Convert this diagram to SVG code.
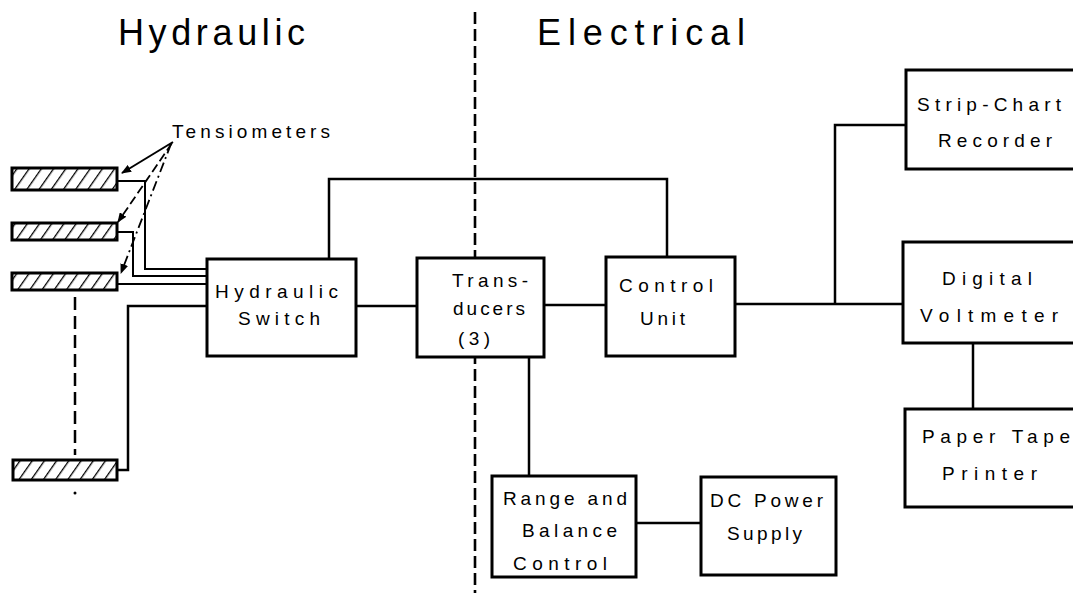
<svg xmlns="http://www.w3.org/2000/svg" width="1073" height="593" viewBox="0 0 1073 593">
<style>
.box{fill:#fff;stroke:#000;stroke-width:3}
.ln{fill:none;stroke:#000;stroke-width:2.5}
.tube{fill:none;stroke:#000;stroke-width:2}
.t{font-family:"Liberation Sans",Arial,sans-serif;font-size:19px;fill:#000}
.h{font-family:"Liberation Sans",Arial,sans-serif;font-size:36px;fill:#000}
.tens{fill:url(#hatch);stroke:#000;stroke-width:3}
</style>
<defs>
<pattern id="hatch" patternUnits="userSpaceOnUse" width="10" height="10" patternTransform="rotate(35)">
<rect width="10" height="10" fill="#fff"/>
<line x1="0" y1="0" x2="0" y2="10" stroke="#000" stroke-width="2.6"/>
</pattern>
<marker id="arr" markerWidth="10" markerHeight="8" refX="9" refY="4" orient="auto" markerUnits="userSpaceOnUse">
<path d="M0,0 L10,4 L0,8 Z" fill="#000"/>
</marker>
</defs>
<rect width="1073" height="593" fill="#fff"/>

<g id="headers">
<text class="h" x="118" y="45" textLength="187" lengthAdjust="spacing">Hydraulic</text>
<text class="h" x="537" y="45" textLength="208" lengthAdjust="spacing">Electrical</text>
</g>

<g id="divider">
<path d="M475,12 V593" fill="none" stroke="#000" stroke-width="2.6" stroke-dasharray="12 5"/>
</g>

<g id="tensiometers">
<rect class="tens" x="12" y="168" width="105" height="22"/>
<rect class="tens" x="12" y="223" width="105" height="17"/>
<rect class="tens" x="12" y="273" width="105" height="17"/>
<rect class="tens" x="13" y="460" width="104" height="20"/>
<path d="M75,297 V455" fill="none" stroke="#000" stroke-width="2.5" stroke-dasharray="13 6"/>
<circle cx="75" cy="493" r="1.5" fill="#000"/>
<text class="t" x="172" y="138" textLength="158" lengthAdjust="spacing">Tensiometers</text>
<path d="M173,142 L122,173" fill="none" stroke="#000" stroke-width="2" marker-end="url(#arr)"/>
<path d="M172,143 L118,222" fill="none" stroke="#000" stroke-width="1.8" stroke-dasharray="9 4" marker-end="url(#arr)"/>
<path d="M171,144 L121,273" fill="none" stroke="#000" stroke-width="1.8" stroke-dasharray="10 4 2 4" marker-end="url(#arr)"/>
</g>

<g id="connectors">
<path class="tube" d="M117,181 H145 V269 H207"/>
<path class="tube" d="M117,232 H133 V276 H207"/>
<path class="tube" d="M117,284 H207"/>
<path class="ln" d="M117,470 H128 V306 H207"/>
<path class="ln" d="M329,259 V179 H667 V257"/>
<path class="ln" d="M356,306 H417"/>
<path class="ln" d="M544,305 H606"/>
<path class="ln" d="M735,304 H903"/>
<path class="ln" d="M835,304 V125 H906"/>
<path class="ln" d="M973,343 V409"/>
<path class="ln" d="M529,357 V476"/>
<path class="ln" d="M636,523 H701"/>
</g>

<g id="hydraulic-switch">
<rect class="box" x="207" y="259" width="149" height="97"/>
<text class="t" x="215" y="298" textLength="123" lengthAdjust="spacing">Hydraulic</text>
<text class="t" x="238" y="325" textLength="82" lengthAdjust="spacing">Switch</text>
</g>

<g id="transducers">
<rect class="box" x="417" y="258" width="127" height="99"/>
<text class="t" x="452" y="287" textLength="76" lengthAdjust="spacing">Trans-</text>
<text class="t" x="453" y="315" textLength="72" lengthAdjust="spacing">ducers</text>
<text class="t" x="458" y="345" textLength="32" lengthAdjust="spacing">(3)</text>
</g>

<g id="control-unit">
<rect class="box" x="606" y="257" width="129" height="99"/>
<text class="t" x="619" y="292" textLength="94" lengthAdjust="spacing">Control</text>
<text class="t" x="640" y="325" textLength="45" lengthAdjust="spacing">Unit</text>
</g>

<g id="strip-chart">
<rect class="box" x="906" y="70" width="180" height="99"/>
<text class="t" x="917" y="111" textLength="144" lengthAdjust="spacing">Strip-Chart</text>
<text class="t" x="938" y="147" textLength="114" lengthAdjust="spacing">Recorder</text>
</g>

<g id="digital-voltmeter">
<rect class="box" x="903" y="242" width="183" height="101"/>
<text class="t" x="942" y="285" textLength="90" lengthAdjust="spacing">Digital</text>
<text class="t" x="920" y="322" textLength="138" lengthAdjust="spacing">Voltmeter</text>
</g>

<g id="paper-tape">
<rect class="box" x="905" y="409" width="181" height="98"/>
<text class="t" x="922" y="443" textLength="148" lengthAdjust="spacing">Paper Tape</text>
<text class="t" x="942" y="480" textLength="95" lengthAdjust="spacing">Printer</text>
</g>

<g id="range-balance">
<rect class="box" x="492" y="476" width="144" height="101"/>
<text class="t" x="503" y="505" textLength="124" lengthAdjust="spacing">Range and</text>
<text class="t" x="522" y="537" textLength="95" lengthAdjust="spacing">Balance</text>
<text class="t" x="513" y="570" textLength="94" lengthAdjust="spacing">Control</text>
</g>

<g id="dc-power">
<rect class="box" x="701" y="477" width="135" height="98"/>
<text class="t" x="710" y="507" textLength="113" lengthAdjust="spacing">DC Power</text>
<text class="t" x="727" y="540" textLength="75" lengthAdjust="spacing">Supply</text>
</g>
</svg>
